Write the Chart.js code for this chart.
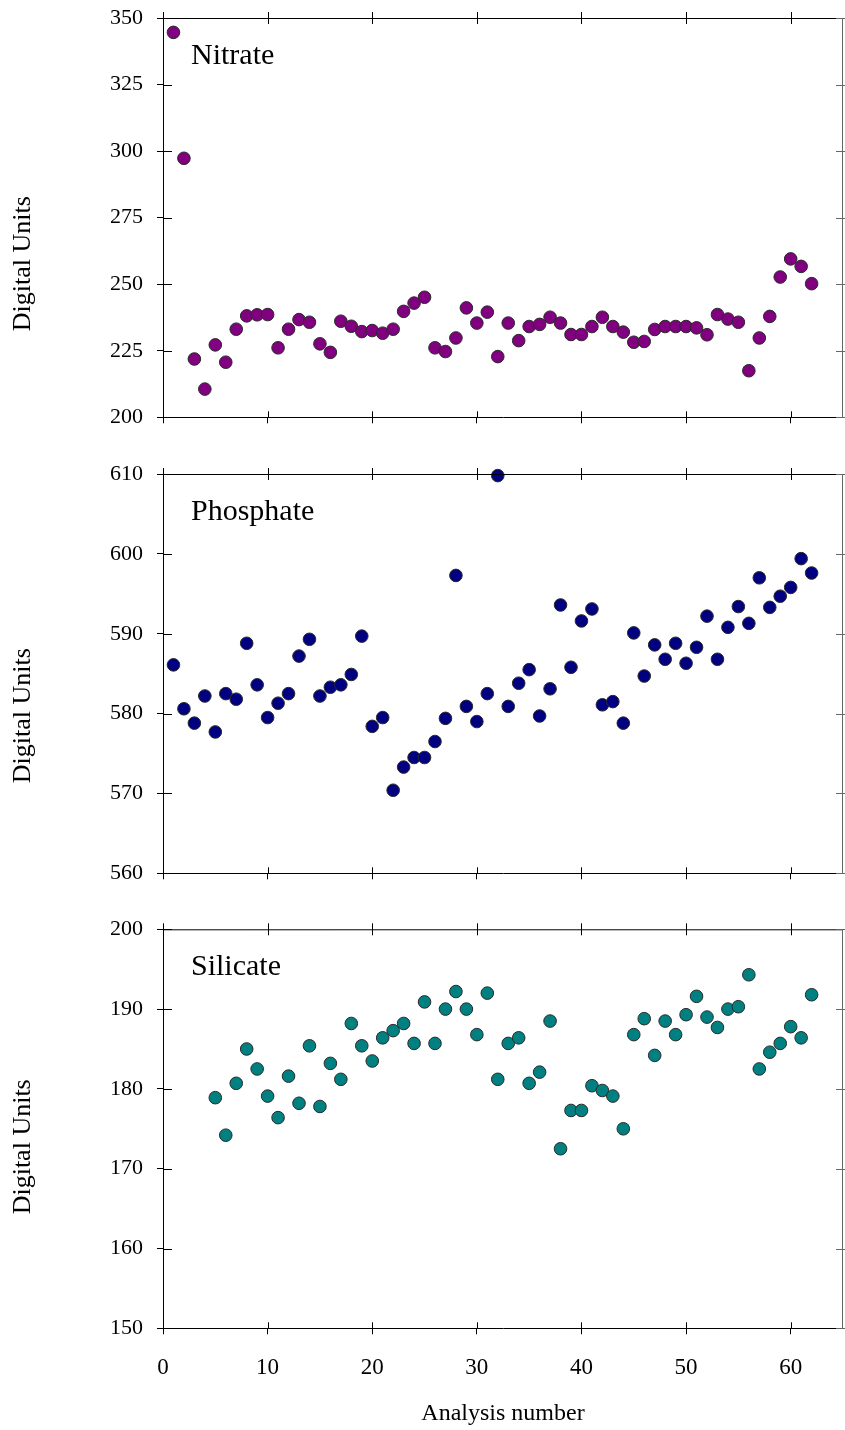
<!DOCTYPE html>
<html lang="en">
<head>
  <meta charset="UTF-8">
  <title>Nitrate, Phosphate and Silicate by analysis number</title>
  <script src="https://cdn.jsdelivr.net/npm/chart.js"></script>
  <style>
    body { margin: 0; background: #fff; }
    #wrap { position: relative; width: 845px; height: 1430px; }
    #wrap canvas { position: absolute; left: 0; }
  </style>
</head>
<body>
  <div id="wrap">
    <canvas id="nitrateChart" width="845" height="440" style="top:0px"></canvas>
    <canvas id="phosphateChart" width="845" height="440" style="top:450px"></canvas>
    <canvas id="silicateChart" width="845" height="525" style="top:905px"></canvas>
  </div>

  <script>
    // analysis numbers 1..62
    const analysisNumbers = [
      1, 2, 3, 4, 5, 6, 7, 8, 9, 10, 11, 12, 13, 14, 15, 16, 17, 18, 19, 20,
      21, 22, 23, 24, 25, 26, 27, 28, 29, 30, 31, 32, 33, 34, 35, 36, 37, 38, 39, 40,
      41, 42, 43, 44, 45, 46, 47, 48, 49, 50, 51, 52, 53, 54, 55, 56, 57, 58, 59, 60,
      61, 62
    ];

    const nitrate = [
      344.6, 297.3, 221.9, 210.6, 227.2, 220.7, 233.1, 238.1, 238.5, 238.6,
      226.1, 233.1, 236.7, 235.7, 227.6, 224.4, 236.1, 234.2, 232.2, 232.6,
      231.6, 233.1, 239.8, 242.9, 245.1, 226.1, 224.7, 229.8, 241.1, 235.4,
      239.5, 222.8, 235.4, 228.8, 234.1, 234.9, 237.6, 235.4, 231.1, 231.1,
      234.1, 237.6, 234.1, 232.0, 228.2, 228.5, 233.0, 234.1, 234.1, 234.1,
      233.6, 231.0, 238.6, 236.9, 235.7, 217.5, 229.8, 237.9, 252.7, 259.5,
      256.7, 250.2
    ];

    const phosphate = [
      586.1, 580.6, 578.8, 582.2, 577.7, 582.5, 581.8, 588.8, 583.6, 579.5,
      581.3, 582.5, 587.2, 589.3, 582.2, 583.3, 583.6, 584.9, 589.7, 578.4,
      579.5, 570.4, 573.3, 574.5, 574.5, 576.5, 579.4, 597.3, 580.9, 579.0,
      582.5, 609.8, 580.9, 583.8, 585.5, 579.7, 583.1, 593.6, 585.8, 591.6,
      593.1, 581.1, 581.5, 578.8, 590.1, 584.7, 588.6, 586.8, 588.8, 586.3,
      588.3, 592.2, 586.8, 590.8, 593.4, 591.3, 597.0, 593.3, 594.7, 595.8,
      599.4, 597.6
    ];

    // no silicate reading for analyses 1-4
    const silicate = [
      null, null, null, null, 178.9, 174.2, 180.7, 185.0, 182.5, 179.1,
      176.4, 181.6, 178.2, 185.4, 177.8, 183.2, 181.2, 188.2, 185.4, 183.5,
      186.4, 187.3, 188.2, 185.7, 190.9, 185.7, 190.0, 192.2, 190.0, 186.8,
      192.0, 181.2, 185.7, 186.4, 180.7, 182.1, 188.5, 172.5, 177.3, 177.3,
      180.4, 179.8, 179.1, 175.0, 186.8, 188.8, 184.2, 188.5, 186.8, 189.3,
      191.6, 189.0, 187.7, 190.0, 190.3, 194.3, 182.5, 184.6, 185.7, 187.8,
      186.4, 191.8
    ];

    const xTicks = [0, 10, 20, 30, 40, 50, 60];
    const nitrateTicks = [200, 225, 250, 275, 300, 325, 350];
    const phosphateTicks = [560, 570, 580, 590, 600, 610];
    const silicateTicks = [150, 160, 170, 180, 190, 200];

    const serif = "'Liberation Serif', 'Times New Roman', serif";

    // draws the box, the inner / mirrored tick marks and the panel texts
    const framePlugin = {
      id: 'frame',
      afterDraw(chart, args, opts) {
        const ctx = chart.ctx;
        const { left, right, top, bottom } = chart.chartArea;
        const xs = chart.scales.x;
        const ys = chart.scales.y;
        ctx.save();
        ctx.strokeStyle = '#000';
        ctx.lineWidth = 1;
        ctx.beginPath();
        ctx.moveTo(left, top + 0.5);
        ctx.lineTo(right, top + 0.5);
        ctx.stroke();
        ctx.strokeStyle = '#666';
        ctx.beginPath();
        ctx.moveTo(right - 0.5, top);
        ctx.lineTo(right - 0.5, bottom);
        ctx.stroke();

        ctx.strokeStyle = '#000';
        ctx.beginPath();
        xs.ticks.forEach(t => {
          const px = Math.round(xs.getPixelForValue(t.value)) + 0.5;
          ctx.moveTo(px, bottom);
          ctx.lineTo(px, bottom - 6);
          ctx.moveTo(px, top - 6);
          ctx.lineTo(px, top + 6);
        });
        ys.ticks.forEach(t => {
          const py = Math.round(ys.getPixelForValue(t.value)) + 0.5;
          ctx.moveTo(left, py);
          ctx.lineTo(left + 9, py);
        });
        ctx.stroke();
        ctx.strokeStyle = '#666';
        ctx.beginPath();
        ys.ticks.forEach(t => {
          const py = Math.round(ys.getPixelForValue(t.value)) + 0.5;
          ctx.moveTo(right - 7, py);
          ctx.lineTo(right + 2, py);
        });
        ctx.stroke();

        // panel name
        ctx.fillStyle = '#000';
        ctx.font = '30px ' + serif;
        ctx.textAlign = 'left';
        ctx.textBaseline = 'alphabetic';
        ctx.fillText(opts.name, left + 28, top + 46);

        // y axis title
        ctx.font = '26px ' + serif;
        ctx.textAlign = 'center';
        ctx.textBaseline = 'middle';
        ctx.translate(23, (top + bottom) / 2 + opts.titleShift);
        ctx.rotate(-Math.PI / 2);
        ctx.fillText('Digital Units', 0, 0);
        ctx.restore();
      }
    };

    function makePanel(canvasId, p) {
      const points = analysisNumbers
        .map((n, i) => ({ x: n, y: p.values[i] }))
        .filter(d => d.y !== null);

      return new Chart(document.getElementById(canvasId), {
        type: 'scatter',
        data: {
          datasets: [{
            label: p.name,
            data: points,
            backgroundColor: p.color,
            borderColor: '#2a2a2a',
            borderWidth: 1,
            pointRadius: 6.3,
            pointHoverRadius: 6.3,
            clip: false
          }]
        },
        options: {
          responsive: false,
          animation: false,
          events: [],
          layout: {
            autoPadding: false,
            padding: { top: p.padTop, right: 2, bottom: 0, left: 0 }
          },
          plugins: {
            legend: { display: false },
            tooltip: { enabled: false },
            frame: { name: p.name, titleShift: p.titleShift }
          },
          scales: {
            x: {
              type: 'linear',
              min: 0,
              max: 65,
              afterFit: s => {
                s.height = p.xHeight;
                s.paddingLeft = 0;
                s.paddingRight = 0;
              },
              afterBuildTicks: s => { s.ticks = xTicks.map(v => ({ value: v })); },
              ticks: {
                display: p.showX,
                includeBounds: false,
                padding: 20,
                color: '#000',
                font: { family: serif, size: 23 }
              },
              grid: { drawOnChartArea: false, drawTicks: true, tickLength: 6, color: '#000' },
              border: { display: true, color: '#000', width: 1 },
              title: {
                display: p.showX,
                text: 'Analysis number',
                color: '#000',
                font: { family: serif, size: 24 },
                padding: { top: 0, bottom: 2 }
              }
            },
            y: {
              type: 'linear',
              min: p.ticks[0],
              max: p.ticks[p.ticks.length - 1],
              afterFit: s => {
                s.width = 163;
                s.paddingTop = 0;
                s.paddingBottom = 0;
              },
              afterBuildTicks: s => { s.ticks = p.ticks.map(v => ({ value: v })); },
              ticks: {
                padding: 14,
                color: '#000',
                font: { family: serif, size: 22 }
              },
              grid: { drawOnChartArea: false, drawTicks: true, tickLength: 6, color: '#000' },
              border: { display: true, color: '#000', width: 1 }
            }
          }
        },
        plugins: [framePlugin]
      });
    }

    makePanel('nitrateChart', {
      name: 'Nitrate', values: nitrate, color: '#800080', ticks: nitrateTicks,
      padTop: 18, xHeight: 22.7, showX: false, titleShift: 46
    });
    makePanel('phosphateChart', {
      name: 'Phosphate', values: phosphate, color: '#000080', ticks: phosphateTicks,
      padTop: 24, xHeight: 16.7, showX: false, titleShift: 42
    });
    makePanel('silicateChart', {
      name: 'Silicate', values: silicate, color: '#008080', ticks: silicateTicks,
      padTop: 24.3, xHeight: 101.7, showX: true, titleShift: 18
    });
  </script>
</body>
</html>
